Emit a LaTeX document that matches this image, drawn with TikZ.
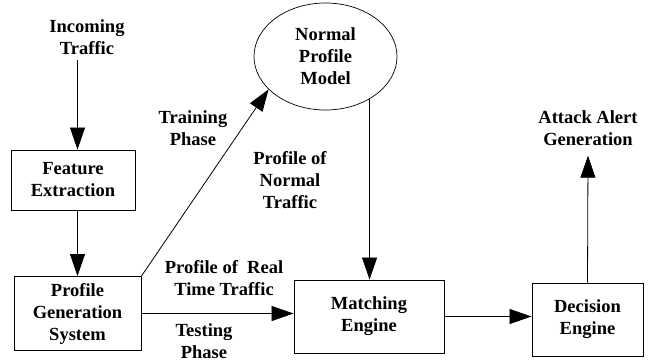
\documentclass[tikz,border=0pt]{standalone}
\usepackage{fontspec}
\setmainfont{Liberation Serif}
\usetikzlibrary{positioning,shapes.geometric,arrows.meta}
\tikzset{
  block/.style={draw,line width=0.9pt,align=center,inner sep=2pt},
  model/.style={ellipse,draw,line width=0.7pt,align=center,inner sep=0pt},
  label/.style={align=center,inner sep=2pt},
  flow/.style={-{Triangle[length=22pt,width=15pt]},line width=0.8pt}
}

\begin{document}
\begin{tikzpicture}[x=1pt,y=-1pt,font=\fontsize{18.5}{22}\selectfont\bfseries]
    \useasboundingbox (0,0) rectangle (656,362);

    % Define the blocks
    \node [block,minimum width=124pt,minimum height=60pt] (fe) at (73,180) {Feature\\Extraction};
    \node [block,minimum width=127pt,minimum height=74pt] (pgs) at (77.5,313.5) {Profile\\Generation\\System};
    \node [model,minimum width=143pt,minimum height=107pt] (nm) at (325.5,56.5) {Normal\\Profile\\Model};
    \node [block,minimum width=150pt,minimum height=73pt] (me) at (369,316.5) {Matching\\Engine};
    \node [block,minimum width=111pt,minimum height=73pt] (de) at (587.5,319.5) {Decision\\Engine};

    % Free texts
    \node [label] (incoming) at (87,37) {Incoming\\Traffic};
    \node [label] (alert) at (588,128) {Attack Alert\\Generation};
    \node [label] (training) at (193,128) {Training\\Phase};
    \node [label] (normal) at (290,180) {Profile of\\Normal\\Traffic};
    \node [label] (realtime) at (224,278) {Profile of~~Real\\Time Traffic};
    \node [label] (testing) at (204,341) {Testing\\Phase};

    % Draw the flow
    \draw [flow] ([yshift=-3pt]incoming.south -| pgs.north) -- (fe.north -| pgs.north);
    \draw [flow] (fe.south -| pgs.north) -- (pgs.north);
    \draw [flow] (pgs.north east) -- (nm.210);
    \draw [flow] (nm.316) -- (nm.316 |- me.north);
    \draw [flow] (pgs.east) -- (pgs.east -| me.west);
    \draw [flow] (me.east) -- (me.east -| de.west);
    \draw [flow] (de.north) -- ([yshift=-8pt]alert.south);
\end{tikzpicture}
\end{document}
